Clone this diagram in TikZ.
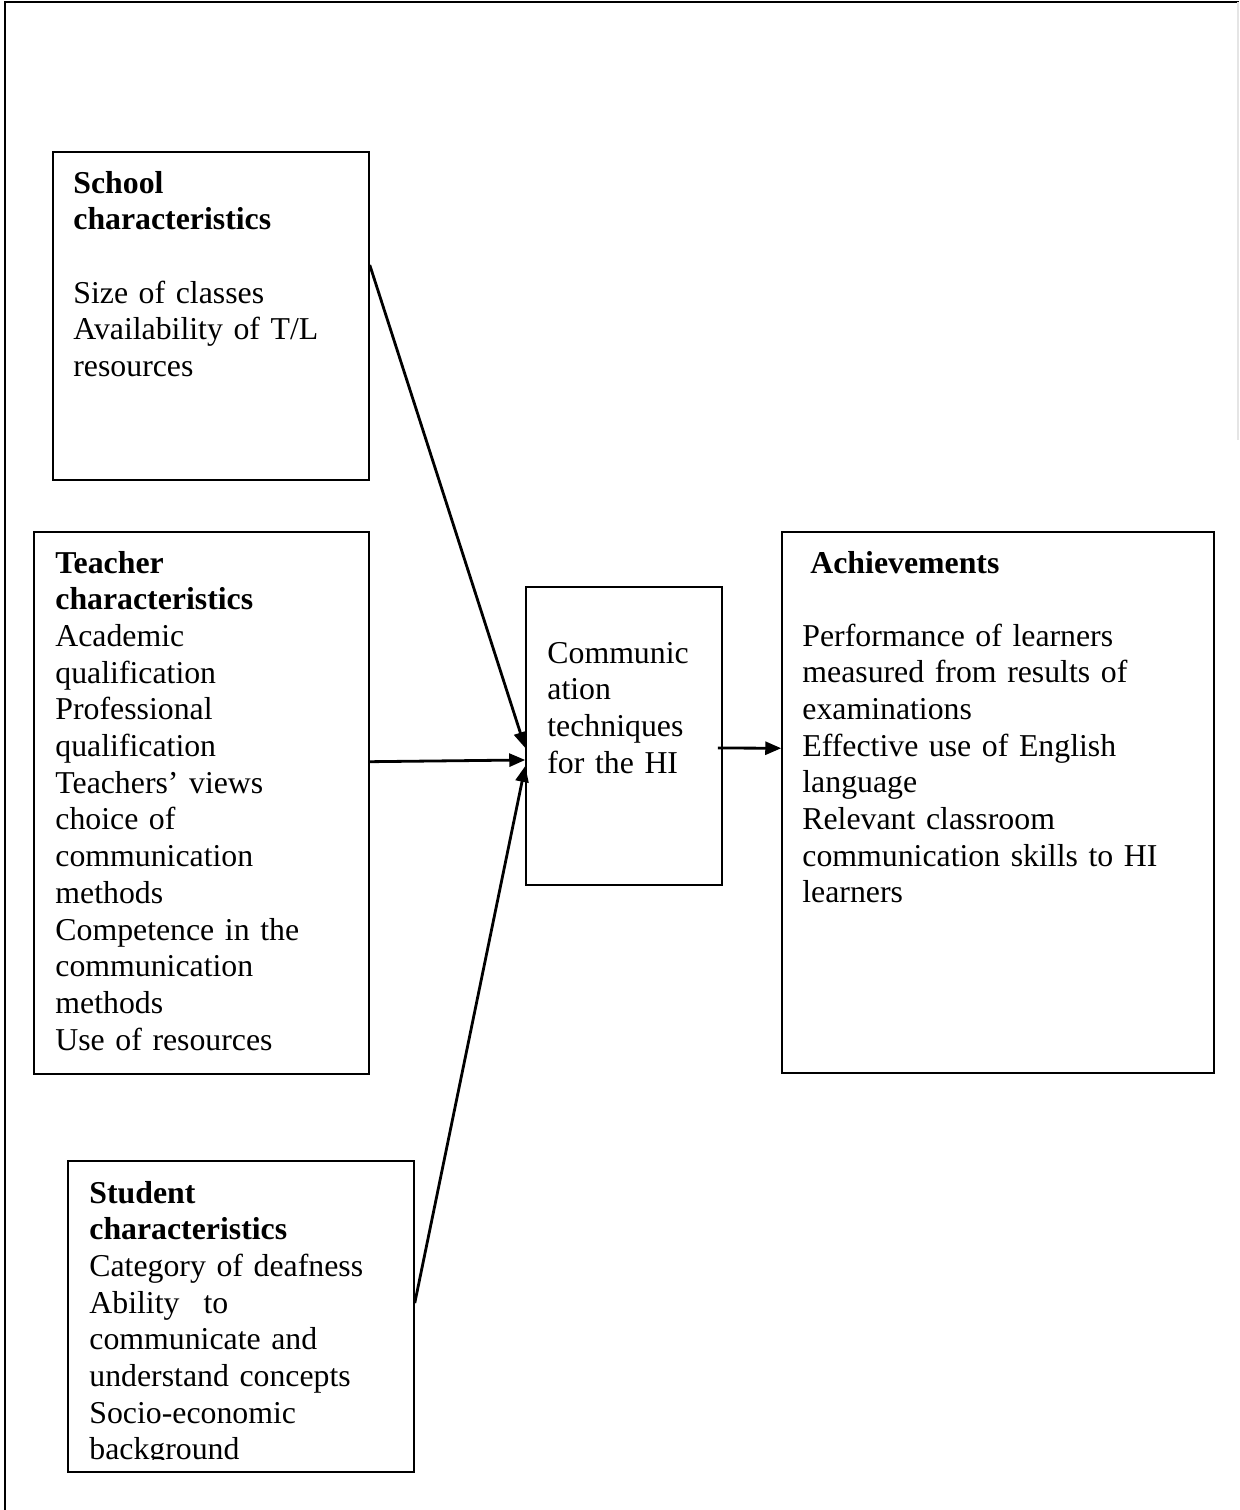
\documentclass[tikz,border=0pt]{standalone}
\usepackage{fontspec}
\setmainfont{Liberation Serif}
\usetikzlibrary{arrows.meta,fit,calc}

\begin{document}
\begin{tikzpicture}[x=0.5pt,y=-0.5pt,
    box/.style={draw, line width=0.75pt, inner sep=0pt},
    txt/.style={anchor=base west, inner sep=0pt, text width=200pt, align=left,
        font=\fontsize{15.9}{18.35}\selectfont},
    arr/.style={-{Triangle[length=8pt,width=6.5pt]}, line width=1.4pt}]
    \useasboundingbox (0,0) rectangle (1239,1510);
    % page frame
    \draw[line width=1pt] (5,1510) -- (5,2) -- (1239,2);
    \draw[gray!20, line width=0.75pt] (1238,2) -- (1238,440);

    % boxes
    \node[box, fit={(53,152) (369,480)}] (school) {};
    \node[box, fit={(34,532) (369,1074)}] (teacher) {};
    \node[box, fit={(68,1161) (414,1472)}] (student) {};
    \node[box, fit={(526,587) (722,885)}] (comm) {};
    \node[box, fit={(782,532) (1214,1073)}] (achieve) {};

    % texts
    \node[txt] (schooltxt) at (73,193) {\textbf{School}\\
        \textbf{characteristics}\\[18.35pt]
        Size of classes\\ Availability of T/L\\ resources};
    \node[txt] (teachertxt) at (55,573) {\textbf{Teacher}\\
        \textbf{characteristics}\\
        Academic\\ qualification\\ Professional\\ qualification\\
        Teachers’ views\\ choice of\\ communication\\ methods\\
        Competence in the\\ communication\\ methods\\ Use of resources};
    \begin{scope}
        \clip (60,1150) rectangle (420,1459);
        \node[txt] (studenttxt) at (89,1203) {\textbf{Student}\\
            \textbf{characteristics}\\
            Category of deafness\\ Ability\hspace{12pt}to\\
            communicate and\\ understand concepts\\
            Socio-economic\\ background};
    \end{scope}
    \node[txt] (commtxt) at (547,663) {Communic\\ ation\\ techniques\\ for the HI};
    \node[txt] (achievetxt) at (810,573) {\textbf{Achievements}};
    \node[txt] (resulttxt) at (802,646) {Performance of learners\\
        measured from results of\\ examinations\\
        Effective use of English\\ language\\ Relevant classroom\\
        communication skills to HI\\ learners};

    % arrows
    \draw[arr] ($(school.north east)!0.345!(school.south east)$)
        -- ($(comm.north west)!0.54!(comm.south west)$);
    \draw[arr] ($(teacher.north east)!0.424!(teacher.south east)$)
        -- ($(comm.north west)!0.58!(comm.south west)$);
    \draw[arr] ($(student.north east)!0.457!(student.south east)$)
        -- ($(comm.north west)!0.6!(comm.south west)$);
    \draw[arr] ([xshift=-2.5pt]$(comm.north east)!0.54!(comm.south east)$)
        -- ($(achieve.north west)!0.4!(achieve.south west)$);
\end{tikzpicture}
\end{document}
